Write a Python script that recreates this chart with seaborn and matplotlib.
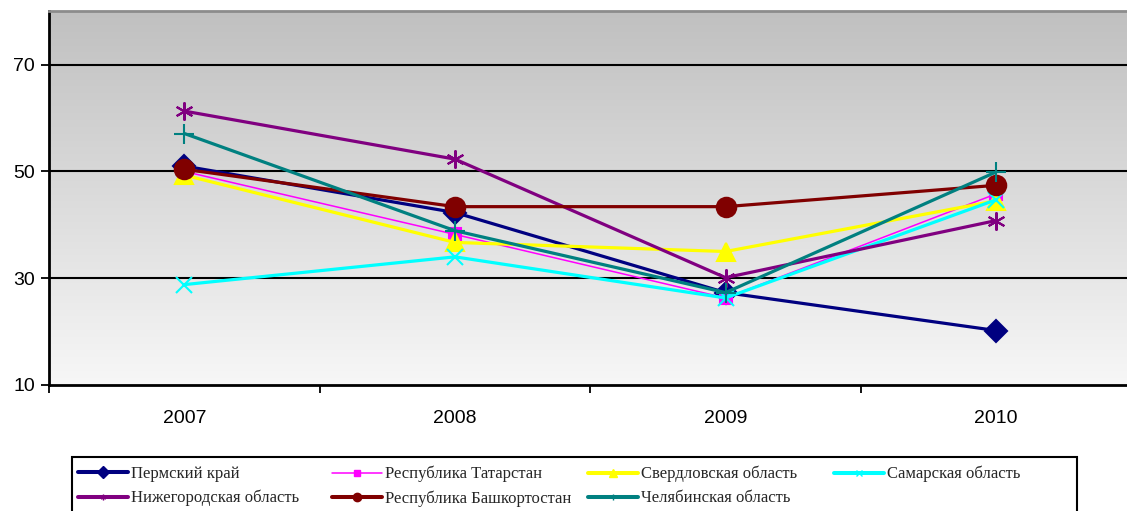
import numpy as np
import pandas as pd
import matplotlib
matplotlib.use('Agg')
import matplotlib.pyplot as plt
from matplotlib.colors import LinearSegmentedColormap
from matplotlib.patches import Rectangle
import seaborn as sns

years = ['2007', '2008', '2009', '2010']

perm = [51.0, 42.3, 27.3, 20.2]
tatarstan = [50.0, 38.2, 26.3, 45.8]
sverdlovsk = [49.3, 36.7, 35.0, 44.5]
samara = [28.8, 34.0, 26.3, 44.7]
nizhny = [61.3, 52.3, 30.1, 40.8]
bashkortostan = [50.4, 43.4, 43.4, 47.4]
chelyabinsk = [57.1, 38.9, 27.3, 49.9]

names = ['Пермский край', 'Республика Татарстан', 'Свердловская область',
         'Самарская область', 'Нижегородская область',
         'Республика Башкортостан', 'Челябинская область']
values = [perm, tatarstan, sverdlovsk, samara, nizhny, bashkortostan, chelyabinsk]

yticks = [10, 30, 50, 70]

# style per series: colour, marker, line width, marker size, legend marker size
styles = {
    'Пермский край': ('#000080', 'D', 2.3, 11, 6),
    'Республика Татарстан': ('#ff00ff', 's', 1.1, 8, 5),
    'Свердловская область': ('#ffff00', '^', 2.3, 13, 6),
    'Самарская область': ('#00ffff', 'x', 2.3, 12, 4),
    'Нижегородская область': ('#800080', (6, 2, 0), 2.3, 13, 4),
    'Республика Башкортостан': ('#800000', 'o', 2.3, 14, 6),
    'Челябинская область': ('#008080', '+', 2.3, 14, 4),
}

df = pd.DataFrame({'year': np.tile(np.arange(len(years)), len(names)),
                   'value': np.concatenate(values),
                   'region': np.repeat(names, len(years))})

sns.set_theme(style='white')
plt.rcParams['font.family'] = ['Liberation Sans', 'DejaVu Sans']

fig = plt.figure(figsize=(11.27, 5.11), dpi=100)
ax = fig.add_axes([0.0435, 0.2466, 0.9605, 0.7314])

# gradient background
cmap = LinearSegmentedColormap.from_list('bg', ['#f7f7f7', '#c0c0c0'])
ax.imshow(np.linspace(0, 1, 256).reshape(-1, 1), cmap=cmap, origin='lower',
          extent=[0, 1, 0, 1], transform=ax.transAxes, aspect='auto', zorder=0)

handles = {}
for i, name in enumerate(names):
    col, mk, lw, ms, lms = styles[name]
    sub = df[df['region'] == name]
    sns.lineplot(data=sub, x='year', y='value', color=col, marker=mk,
                 markersize=ms, markeredgecolor=col, markeredgewidth=1.5,
                 linewidth=lw, ax=ax, zorder=3 + i, legend=False)
    handles[name] = plt.Line2D([], [], color=col, marker=mk, markersize=lms,
                               markeredgecolor=col, linewidth=lw + 0.6 if lw > 2 else lw)

ax.set_xlim(-0.5, 3.5)
ax.set_ylim(10, 80)
ax.set_yticks(yticks)
ax.set_yticklabels([str(t) for t in yticks], fontsize=14, color='black')
ax.set_xticks(range(len(years)))
ax.set_xticklabels(years, fontsize=14, color='black')
ax.set_xticks(np.arange(-0.5, 3.6, 1), minor=True)
ax.tick_params(axis='x', which='major', length=0, pad=18)
ax.tick_params(axis='x', which='minor', length=6, width=1.3, color='black', direction='out', bottom=True)
ax.tick_params(axis='y', length=6, width=1.3, color='black', direction='out', left=True, pad=4)
ax.set_xlabel('')
ax.set_ylabel('')
for t in yticks[1:]:
    ax.axhline(t, color='black', lw=1.5, zorder=2)

ax.spines['left'].set_color('black')
ax.spines['left'].set_linewidth(2)
ax.spines['bottom'].set_color('black')
ax.spines['bottom'].set_linewidth(2)
ax.spines['top'].set_color('#8c8c8c')
ax.spines['top'].set_linewidth(2)
ax.spines['right'].set_visible(False)

# legend: frame plus four equal columns
W, H = 1127, 511
fig.patches.append(Rectangle((72 / W, -0.05), 1005 / W, 1.05 - 457 / H,
                             transform=fig.transFigure, fill=False,
                             edgecolor='black', linewidth=1.5))
columns = [['Пермский край', 'Нижегородская область'],
           ['Республика Татарстан', 'Республика Башкортостан'],
           ['Свердловская область', 'Челябинская область'],
           ['Самарская область']]
col_x = [78, 332, 588, 834]
for cx, col_names in zip(col_x, columns):
    fig.legend([handles[n] for n in col_names], col_names, loc='upper left',
               bbox_to_anchor=(cx / W, 1 - 466 / H), frameon=False,
               handlelength=3, handletextpad=0.2, borderpad=0, borderaxespad=0,
               labelspacing=0.48, prop={'family': 'Liberation Serif', 'size': 12})

fig.savefig('out.png', dpi=100)
